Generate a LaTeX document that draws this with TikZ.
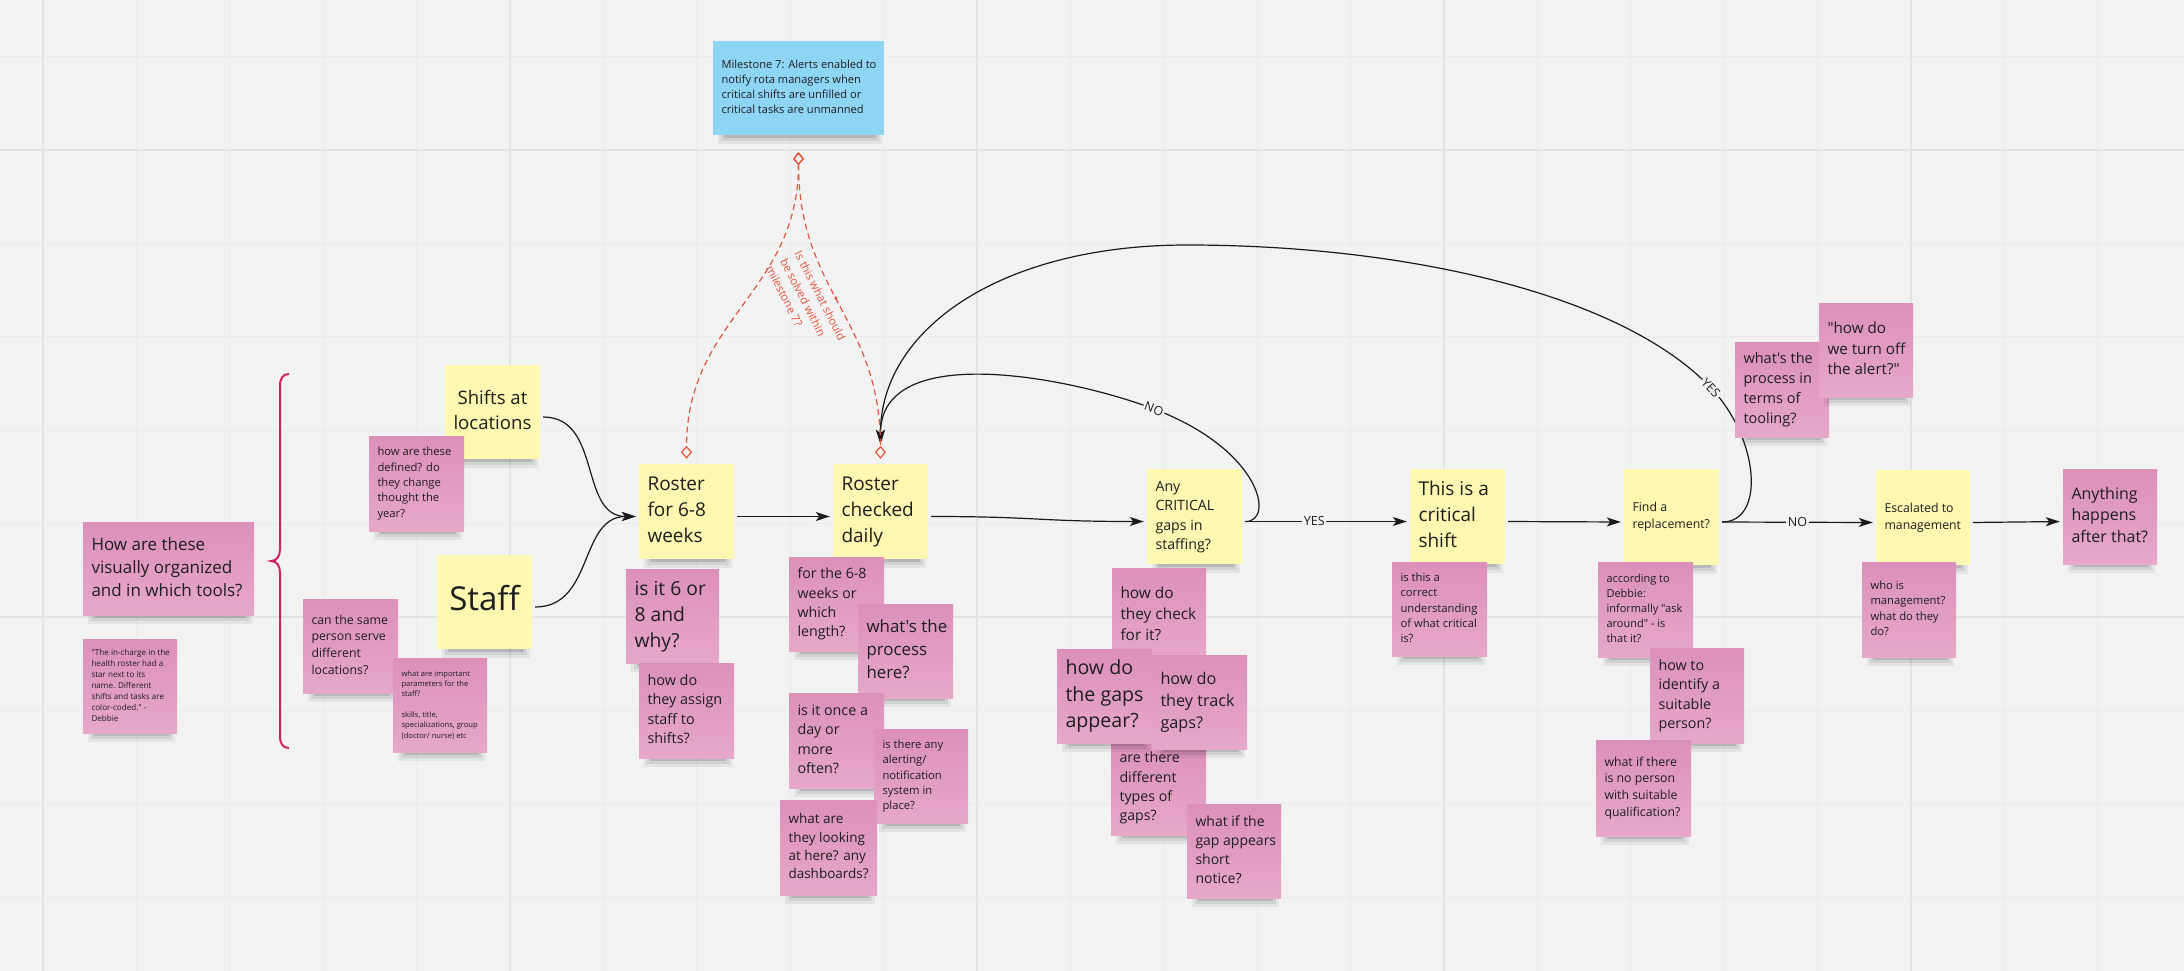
\documentclass[tikz,border=0pt]{standalone}
\usepackage{fontspec}
\setmainfont{Open Sans}[Ligatures=TeXOff]
\usetikzlibrary{arrows.meta}
\definecolor{bgc}{HTML}{F2F2F2}
\definecolor{gridmin}{HTML}{EBEBEB}
\definecolor{gridmaj}{HTML}{E3E3E3}
\definecolor{yel}{HTML}{FEF7B2}
\definecolor{pinktop}{HTML}{DC90B9}
\definecolor{pinkbot}{HTML}{E6A8C8}
\definecolor{bluen}{HTML}{8DD4F5}
\definecolor{txt}{HTML}{1E1E1E}
\definecolor{redc}{HTML}{E4553A}
\definecolor{bracec}{HTML}{D11F63}
\definecolor{linec}{HTML}{1A1A1A}
\pgfdeclarelayer{background}
\pgfdeclarelayer{lines}
\pgfsetlayers{background,lines,main}
\tikzset{
  yellownote/.style={fill=yel, text=txt, inner sep=0pt},
  pinknote/.style={top color=pinktop, bottom color=pinkbot, text=txt, inner sep=0pt},
  bluenote/.style={fill=bluen, text=txt, inner sep=0pt},
  conn/.style={draw=linec, line width=1.2pt, -{Stealth[length=14pt,width=9pt,inset=3.5pt]}, shorten >=3pt, shorten <=3pt},
  reddash/.style={draw=redc, line width=1.2pt, dash pattern=on 6pt off 4pt, {Diamond[open,length=13pt,width=11pt]}-{Diamond[open,length=13pt,width=11pt]}},
  lbl/.style={fill=bgc, text=txt, inner sep=1.5pt, font=\fontsize{12.5}{15}\selectfont},
}
% #1 name, #2 left, #3 top, #4 width, #5 height, #6 style, #7 font size, #8 align (l/c), #9 text
\newcommand\stickynote[9]{%
  \fill[black,opacity=.06] ({#2+5},{#3+#5-4}) rectangle ({#2+#4-2},{#3+#5+9});
  \fill[black,opacity=.08] ({#2+8},{#3+#5-4}) rectangle ({#2+#4-5},{#3+#5+6});
  \fill[black,opacity=.12] ({#2+11},{#3+#5-4}) rectangle ({#2+#4-8},{#3+#5+3});
  \pgfmathsetmacro\notelsk{#7*1.36}%
  \node[#6, minimum width=#4, minimum height=#5, font={\fontsize{#7}{\notelsk}\selectfont}] (#1) at ({#2+#4/2},{#3+#5/2})
    {\makebox[\dimexpr#4pt-17pt\relax][#8]{\begin{tabular}{@{}#8@{}}#9\end{tabular}}};
}
\begin{document}
\begin{tikzpicture}[x=1pt,y=-1pt]
\useasboundingbox (0,0) rectangle (2184,971);
\begin{pgfonlayer}{background}
\fill[bgc] (0,0) rectangle (2184,971);
\foreach \k in {0,...,22} {\draw[gridmin, line width=1.2pt] ({43+93.4*\k},0) -- ({43+93.4*\k},971);}
\foreach \k in {0,...,9} {\draw[gridmin, line width=1.2pt] (0,{56.6+93.4*\k}) -- (2184,{56.6+93.4*\k});}
\foreach \k in {0,5,10,15,20} {\draw[gridmaj, line width=2pt] ({43+93.4*\k},0) -- ({43+93.4*\k},971);}
\foreach \k in {1,6} {\draw[gridmaj, line width=2pt] (0,{56.6+93.4*\k}) -- (2184,{56.6+93.4*\k});}
\end{pgfonlayer}

% brace
\draw[bracec, line width=2pt] (289,374) .. controls (283,374) and (280,378) .. (280,386) -- (280,549)
  .. controls (280,556) and (277,561) .. (271,561) .. controls (277,561) and (280,566) .. (280,573)
  -- (280,736) .. controls (280,744) and (283,748) .. (289,748);

% left cluster
\stickynote{howvis}{83}{522}{171}{93}{pinknote}{17}{l}{How are these\\visually organized\\and in which tools?}
\stickynote{quote}{83}{639}{94}{94}{pinknote}{8.1}{l}{"The in-charge in the\\health roster had a\\star next to its\\name. Different\\shifts and tasks are\\color-coded." -\\Debbie}
\stickynote{shifts}{445}{365}{95}{94}{yellownote}{18.6}{c}{Shifts at\\locations}
\stickynote{defined}{369}{436}{95}{95}{pinknote}{11.25}{l}{how are these\\defined? do\\they change\\thought the\\year?}
\stickynote{staff}{437}{555}{95}{94}{yellownote}{33}{c}{Staff}
\stickynote{samep}{303}{599}{95}{94}{pinknote}{12.3}{l}{can the same\\person serve\\different\\locations?}
\stickynote{params}{393}{658}{94}{94}{pinknote}{7.6}{l}{what are important\\parameters for the\\staff?\\ \\skills, title,\\specializations, group\\(doctor/ nurse) etc}

% roster
\stickynote{r68}{639}{464}{95}{95}{yellownote}{19}{l}{Roster\\for 6-8\\weeks}
\stickynote{why}{626}{569}{93}{94}{pinknote}{19.3}{l}{is it 6 or\\8 and\\why?}
\stickynote{assign}{639}{663}{95}{95}{pinknote}{14.4}{l}{how do\\they assign\\staff to\\shifts?}
\stickynote{rcd}{833}{464}{95}{95}{yellownote}{19}{l}{Roster\\checked\\daily}
\stickynote{length}{789}{557}{95}{94}{pinknote}{14.2}{l}{for the 6-8\\weeks or\\which\\length?}
\stickynote{process}{858}{604}{95}{94}{pinknote}{16.9}{l}{what's the\\process\\here?}
\stickynote{once}{789}{693}{95}{95}{pinknote}{14.3}{l}{is it once a\\day or\\more\\often?}
\stickynote{alerting}{874}{729}{94}{94}{pinknote}{11.25}{l}{is there any\\alerting/\\notification\\system in\\place?}
\stickynote{dash}{780}{800}{97}{95}{pinknote}{13.5}{l}{what are\\they looking\\at here? any\\dashboards?}

% critical gaps
\stickynote{crit}{1147}{469}{95}{95}{yellownote}{14.2}{l}{Any\\CRITICAL\\gaps in\\staffing?}
\stickynote{check}{1112}{568}{94}{94}{pinknote}{15.4}{l}{how do\\they check\\for it?}
\stickynote{types}{1111}{741}{95}{94}{pinknote}{14.2}{l}{are there\\different\\types of\\gaps?}
\stickynote{appear}{1057}{649}{95}{94}{pinknote}{19.6}{l}{how do\\the gaps\\appear?}
\stickynote{track}{1152}{655}{95}{94}{pinknote}{16.2}{l}{how do\\they track\\gaps?}
\stickynote{short}{1187}{804}{94}{94}{pinknote}{14}{l}{what if the\\gap appears\\short\\notice?}

% critical shift
\stickynote{cshift}{1410}{469}{95}{95}{yellownote}{19}{l}{This is a\\critical\\shift}
\stickynote{correct}{1392}{562}{95}{94}{pinknote}{11.25}{l}{is this a\\correct\\understanding\\of what critical\\is?}

% replacement
\stickynote{find}{1624}{469}{95}{96}{yellownote}{12.3}{l}{Find a\\replacement?}
\stickynote{debbie}{1598}{562}{95}{95}{pinknote}{11}{l}{according to\\Debbie:\\informally "ask\\around" - is\\that it?}
\stickynote{identify}{1650}{648}{94}{95}{pinknote}{14.3}{l}{how to\\identify a\\suitable\\person?}
\stickynote{noperson}{1596}{740}{95}{96}{pinknote}{12.3}{l}{what if there\\is no person\\with suitable\\qualification?}
\stickynote{tooling}{1735}{342}{94}{95}{pinknote}{14.5}{l}{what's the\\process in\\terms of\\tooling?}
\stickynote{turnoff}{1819}{303}{94}{94}{pinknote}{15.2}{l}{"how do\\we turn off\\the alert?"}

% escalation
\stickynote{esc}{1876}{470}{94}{95}{yellownote}{12.3}{l}{Escalated to\\management}
\stickynote{who}{1862}{562}{94}{95}{pinknote}{11.25}{l}{who is\\management?\\what do they\\do?}
\stickynote{anything}{2063}{469}{94}{95}{pinknote}{16}{l}{Anything\\happens\\after that?}

% milestone
\stickynote{m7}{713}{41}{171}{94}{bluenote}{11.1}{l}{Milestone 7: Alerts enabled to\\notify rota managers when\\critical shifts are unfilled or\\critical tasks are unmanned}

\begin{pgfonlayer}{lines}
\draw[conn] ([yshift=-5pt]shifts.east) .. controls +(62,0) and +(-60,0) .. ([yshift=-5pt]r68.west);
\draw[conn] ([yshift=-5pt]staff.east) .. controls +(62,0) and +(-60,0) .. ([yshift=-5pt]r68.west);
\draw[conn] ([yshift=-5pt]r68.east) -- ([yshift=-5pt]rcd.west);
\draw[conn] ([yshift=-5pt]rcd.east) .. controls +(110,0) and +(-110,0) .. ([yshift=-5pt]crit.west);
\draw[conn] ([yshift=-5pt]crit.east) -- node[pos=.43,lbl] (yes1) {YES} ([yshift=-5pt]cshift.west);
\draw[conn] ([yshift=-5pt]cshift.east) -- ([yshift=-5pt]find.west);
\draw[conn] ([yshift=-5pt]find.east) -- node[pos=.5,lbl] (no2) {NO} ([yshift=-5pt]esc.west);
\draw[conn] ([yshift=-5pt]esc.east) -- ([yshift=-5pt]anything.west);
\draw[conn] ([yshift=-5pt]crit.east) .. controls (1275,522) and (1262,450) .. (1154,409)
  node[pos=1,sloped,lbl] (no1) {NO}
  .. controls (1070,377) and (880,340) .. ([yshift=17pt]rcd.north);
\draw[conn] ([yshift=-5pt]find.east) .. controls (1765,522) and (1760,440) .. (1711,388)
  node[pos=1,sloped,lbl] (yes2) {YES}
  .. controls (1620,292) and (1400,245) .. (1187,245)
  .. controls (1000,245) and (880,330) .. ([yshift=17pt]rcd.north);
\draw[reddash] ([yshift=-17pt]m7.south) .. controls +(0,140) and +(0,-140) .. ([yshift=5pt]r68.north);
\draw[reddash] ([yshift=-17pt]m7.south) .. controls +(0,140) and +(0,-140) .. ([yshift=5pt]rcd.north)
  node[pos=.47, circle, fill=redc, inner sep=0pt, minimum size=3.5pt] (dot) {};
\node[text=redc, rotate=-63, align=left, font=\fontsize{11.3}{16}\selectfont] (q7) at (806,303) {Is this what should\\be solved within\\milestone 7?};
\end{pgfonlayer}
\end{tikzpicture}
\end{document}
